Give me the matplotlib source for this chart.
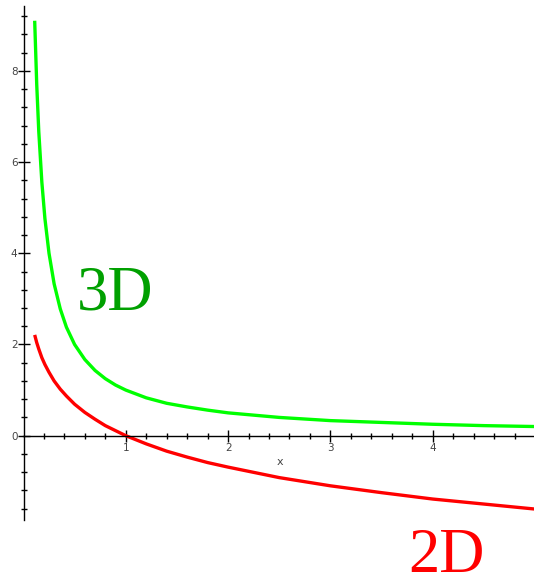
import matplotlib
matplotlib.use("Agg")
import matplotlib.pyplot as plt
from matplotlib.ticker import FixedLocator

# values
x_vals = [0.11, 0.13, 0.15, 0.18, 0.21, 0.25, 0.30, 0.36, 0.42, 0.50, 0.60,
          0.70, 0.80, 0.90, 1.00, 1.20, 1.40, 1.60, 1.80, 2.00, 2.50, 3.00,
          3.50, 4.00, 4.50, 5.00]
green_3d = [9.10, 7.70, 6.67, 5.56, 4.76, 4.00, 3.33, 2.78, 2.38, 2.00, 1.67,
            1.43, 1.25, 1.11, 1.00, 0.83, 0.71, 0.63, 0.56, 0.50, 0.40, 0.33,
            0.29, 0.25, 0.22, 0.20]
red_2d = [2.21, 2.04, 1.90, 1.71, 1.56, 1.39, 1.20, 1.02, 0.87, 0.69, 0.51,
          0.36, 0.22, 0.11, 0.00, -0.18, -0.34, -0.47, -0.59, -0.69, -0.92,
          -1.10, -1.25, -1.39, -1.50, -1.61]
y_tick_labels = [0, 2, 4, 6, 8]
x_tick_labels = [1, 2, 3, 4, 5]
x_minor = [0.2, 0.4, 0.6, 0.8, 1.2, 1.4, 1.6, 1.8, 2.2, 2.4, 2.6, 2.8,
           3.2, 3.4, 3.6, 3.8, 4.2, 4.4, 4.6, 4.8]
y_minor = [-1.6, -1.2, -0.8, -0.4, 0.4, 0.8, 1.2, 1.6, 2.4, 2.8, 3.2, 3.6,
           4.4, 4.8, 5.2, 5.6, 6.4, 6.8, 7.2, 7.6, 8.4, 8.8, 9.2]

fig = plt.figure(figsize=(5.34, 5.77), dpi=100)
ax = fig.add_axes([0, 0, 1, 1])

ax.plot(x_vals, green_3d, color='#00ff00', lw=2.4, solid_capstyle='butt')
ax.plot(x_vals, red_2d, color='#ff0000', lw=2.4, solid_capstyle='butt')

ax.set_xlim(-0.229, 4.99)
ax.set_ylim(-3.10, 9.555)

for s in ['top', 'right']:
    ax.spines[s].set_visible(False)
ax.spines['left'].set_position(('data', 0.01))
ax.spines['bottom'].set_position(('data', 0))
ax.spines['left'].set_bounds(-1.85, 9.43)
ax.spines['bottom'].set_bounds(0, 5)
ax.spines['left'].set_linewidth(1.0)
ax.spines['bottom'].set_linewidth(1.0)

ax.xaxis.set_major_locator(FixedLocator(x_tick_labels))
ax.xaxis.set_minor_locator(FixedLocator(x_minor))
ax.yaxis.set_major_locator(FixedLocator(y_tick_labels))
ax.yaxis.set_minor_locator(FixedLocator(y_minor))
ax.set_xticklabels([str(v) for v in x_tick_labels])
ax.set_yticklabels([str(v) for v in y_tick_labels])
ax.tick_params(which='major', direction='inout', length=8, width=1.0,
               labelsize=7.5, labelcolor='#444444', pad=1)
ax.tick_params(which='minor', direction='inout', length=4, width=1.0)

ax.text(2.51, -0.58, 'x', fontsize=8, color='#444444', ha='center', va='center')

ax.text(0.524, 2.757, '3D', fontsize=45, color='#00a000',
        family='Liberation Serif', ha='left', va='baseline')
ax.text(3.762, -3.00, '2D', fontsize=45, color='#ff0000',
        family='Liberation Serif', ha='left', va='baseline')

fig.savefig('out.png', dpi=100)
